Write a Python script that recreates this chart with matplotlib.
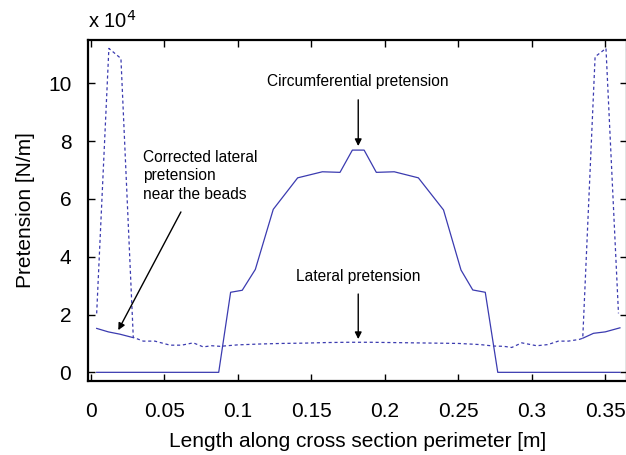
import matplotlib
matplotlib.use("Agg")
import matplotlib.pyplot as plt

plt.rcParams['font.family'] = ['Liberation Sans', 'DejaVu Sans']

# Pretension values in units of 1e4 N/m along the cross-section perimeter [m]
circ_x = [0.0041, 0.0871, 0.0952, 0.1031, 0.1120, 0.1242, 0.1408, 0.1576, 0.1696,
          0.1780, 0.1860, 0.1943, 0.2065, 0.2229, 0.2400, 0.2519, 0.2599, 0.2684,
          0.2769, 0.3600]
circ_y = [0.0, 0.0, 2.77, 2.84, 3.56, 5.64, 6.73, 6.94, 6.92,
          7.69, 7.69, 6.92, 6.94, 6.73, 5.62, 3.54, 2.85, 2.77,
          0.0, 0.0]

lat_x = [0.0041, 0.0124, 0.0206, 0.0290, 0.0358, 0.0437, 0.0540, 0.0619, 0.0698,
         0.0766, 0.0823, 0.0880, 0.1000, 0.1150, 0.1300, 0.1450, 0.1600, 0.1750,
         0.1820, 0.1900, 0.2050, 0.2200, 0.2350, 0.2500, 0.2650, 0.2739, 0.2810,
         0.2864, 0.2932, 0.3034, 0.3110, 0.3181, 0.3249, 0.3324, 0.3347, 0.3431,
         0.3505, 0.3590]
lat_y = [2.04, 11.21, 10.86, 1.21, 1.08, 1.08, 0.94, 0.94, 1.02,
         0.88, 0.92, 0.90, 0.95, 0.98, 1.00, 1.01, 1.03, 1.04,
         1.04, 1.04, 1.03, 1.02, 1.01, 1.00, 0.96, 0.91, 0.90,
         0.86, 1.02, 0.92, 0.96, 1.08, 1.08, 1.14, 1.18, 10.92,
         11.21, 2.04]

corr_left_x = [0.0041, 0.0120, 0.0199, 0.0290]
corr_left_y = [1.52, 1.40, 1.32, 1.20]
corr_right_x = [0.3347, 0.3420, 0.3500, 0.3600]
corr_right_y = [1.18, 1.35, 1.40, 1.54]

x_ticks = [0, 0.05, 0.1, 0.15, 0.2, 0.25, 0.3, 0.35]
x_tick_labels = ['0', '0.05', '0.1', '0.15', '0.2', '0.25', '0.3', '0.35']
y_ticks = [0, 2, 4, 6, 8, 10]

W, H = 626, 455
fig = plt.figure(figsize=(W / 100, H / 100), dpi=100)
left, right, top, bottom = 88, 627, 40, 381
ax = fig.add_axes([left / W, 1 - bottom / H, (right - left) / W, (bottom - top) / H])

line_color = '#3b3bb0'
ax.plot(circ_x, circ_y, color=line_color, lw=0.9)
ax.plot(lat_x, lat_y, color=line_color, lw=0.9, linestyle=(0, (2.5, 2.2)))
ax.plot(corr_left_x, corr_left_y, color=line_color, lw=0.9)
ax.plot(corr_right_x, corr_right_y, color=line_color, lw=0.9)

ax.set_xlim(-0.0018, 0.3648)
ax.set_ylim(-0.3, 11.5)
ax.set_xticks(x_ticks)
ax.set_xticklabels(x_tick_labels)
ax.set_yticks(y_ticks)
ax.tick_params(direction='in', top=True, right=True, length=5, width=1.0,
               labelsize=15, colors='black')
ax.tick_params(axis='x', pad=15)
ax.tick_params(axis='y', pad=12)
for s in ax.spines.values():
    s.set_linewidth(1.6)

ax.set_xlabel('Length along cross section perimeter [m]', fontsize=15, labelpad=8)
ax.set_ylabel('Pretension [N/m]', fontsize=15, labelpad=9)
fig.text(88 / W, 1 - 21 / H, r'x 10$^4$', fontsize=14.5, ha='left', va='center')

ann_fs = 11.2
arrow = dict(arrowstyle='-|>', color='black', lw=1.0, mutation_scale=10,
             shrinkA=0, shrinkB=0)

ax.text(0.182, 10.08, 'Circumferential pretension', fontsize=ann_fs,
        ha='center', va='center')
ax.annotate('', xy=(0.182, 7.83), xytext=(0.182, 9.43), arrowprops=arrow)

ax.text(0.182, 3.33, 'Lateral pretension', fontsize=ann_fs,
        ha='center', va='center')
ax.annotate('', xy=(0.182, 1.15), xytext=(0.182, 2.71), arrowprops=arrow)

ax.text(0.0358, 6.80, 'Corrected lateral\npretension\nnear the beads',
        fontsize=ann_fs, ha='left', va='center', linespacing=1.3)
ax.annotate('', xy=(0.0188, 1.46), xytext=(0.0614, 5.55), arrowprops=arrow)

fig.savefig('out.png', dpi=100)
